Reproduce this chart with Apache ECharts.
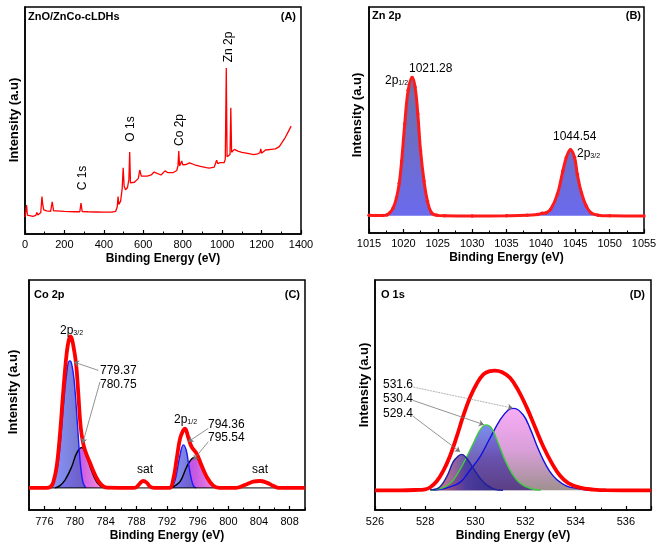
<!DOCTYPE html>
<html><head><meta charset="utf-8">
<script src="https://cdn.jsdelivr.net/npm/echarts@6/dist/echarts.min.js"></script>
<style>html,body{margin:0;padding:0;background:#fff}#c{width:661px;height:544px}</style>
</head><body><div id="c"></div>
<script>
// ---------- DATA ----------
// (A) survey spectrum [binding energy eV, intensity a.u.]
const surveyData = [[0,7.5],[5,8.0],[8,12.7],[12,8.3],[20,7.6],[40,7.8],[55,8.2],[60,9.5],[65,8.4],[80,9.5],[86,16.5],[90,13.0],[95,10.6],[110,10.2],[130,10.0],[138,14.2],[145,10.2],[160,10.2],[200,10.0],[250,9.8],[278,9.8],[284,13.6],[290,9.9],[320,9.8],[360,9.7],[400,9.6],[440,9.6],[460,10.0],[468,12.0],[472,16.5],[476,13.0],[485,14.5],[493,20.0],[498,29.2],[503,21.0],[510,19.5],[520,20.5],[527,24.0],[531,36.1],[535,22.5],[545,21.9],[555,22.8],[565,23.4],[575,24.5],[582,28.2],[590,25.5],[600,24.9],[620,25.5],[640,26.0],[655,27.3],[665,26.5],[690,26.0],[710,27.8],[725,27.0],[750,27.0],[770,28.0],[776,30.0],[780,36.5],[784,30.0],[790,30.5],[795,32.2],[800,30.5],[815,30.6],[835,31.3],[860,30.5],[890,29.8],[920,29.2],[925,30.0],[935,29.0],[960,29.5],[972,32.5],[978,31.0],[990,31.4],[1000,31.0],[1010,31.4],[1016,33.0],[1021,73.1],[1025,34.0],[1035,33.5],[1040,35.0],[1044,55.6],[1048,36.0],[1055,35.8],[1062,37.3],[1080,36.5],[1100,36.0],[1130,35.5],[1160,35.0],[1180,35.3],[1192,35.8],[1196,37.5],[1200,35.6],[1210,36.0],[1220,37.0],[1250,37.3],[1270,37.5],[1290,38.5],[1305,40.5],[1320,42.5],[1335,45.0],[1350,47.5]];

// (B) Zn 2p
const znData = [[1015,7.9],[1016,7.7],[1017,7.7],[1017.6,8.0],[1018.0,8.9],[1018.5,11.0],[1019.0,15.6],[1019.4,22.0],[1019.75,31.9],[1020.2,48.3],[1020.7,63.2],[1021.28,68.8],[1021.7,64.6],[1022.1,52.7],[1022.5,36.4],[1023.0,23.0],[1023.5,14.1],[1024.1,8.9],[1024.9,7.8],[1026,7.6],[1030,7.5],[1035,7.6],[1038,7.8],[1039.5,8.2],[1040.2,8.7],[1040.8,9.0],[1041.4,10.4],[1042.4,17.1],[1043.2,27.5],[1043.7,33.4],[1044.3,36.8],[1044.9,33.4],[1045.3,26.0],[1045.9,17.8],[1046.6,11.9],[1047.3,8.9],[1048.3,7.9],[1050,7.6],[1055,7.5]];
const znBaseline = 7.6;

// (C) Co 2p
const coEnvelope = [[774,9.6],[776.3,9.6],[776.8,10.1],[777.17,12],[777.61,19],[778.04,33],[778.48,52],[778.91,68],[779.2,74],[779.44,75.5],[779.78,71.5],[780.13,63.8],[780.43,50.7],[780.65,39.5],[780.87,32.6],[781.17,27.5],[781.52,24],[781.96,20.5],[782.39,17],[782.83,13.8],[783.26,11.6],[783.7,10.3],[784.2,9.7],[787.6,9.6],[788.04,10.0],[788.5,11.7],[788.9,12.6],[789.35,11.9],[789.78,10.2],[790.3,9.6],[792.3,9.6],[792.83,13.6],[793.26,22.2],[793.7,31.0],[794.1,34.5],[794.35,35.4],[794.78,31.5],[795.2,27.5],[795.87,24.5],[796.5,19.4],[797.2,14.3],[798.0,10.7],[798.8,9.6],[801.0,9.6],[801.5,10.0],[802.4,11.2],[803.25,12.3],[804.1,12.6],[805.0,11.9],[805.9,10.4],[806.6,9.6],[810,9.6]];
const co779 = [[776.9,9.6],[777.61,16.7],[778.04,27.5],[778.48,44.9],[778.91,59.4],[779.26,64.8],[779.48,64.5],[779.78,59.4],[780.0,52.2],[780.22,42],[780.43,31.9],[780.65,21.7],[780.87,15.2],[781.08,11.6],[781.4,9.6]];
const co780 = [[777.4,9.6],[778.0,10.5],[778.7,13],[779.57,18.8],[780.2,24.6],[780.87,27.2],[781.5,23.2],[782.2,16.7],[782.8,12.3],[783.3,10.5],[783.9,9.6]];
const co794 = [[792.4,9.6],[792.9,11.5],[793.26,16],[793.7,23.9],[794.13,28.3],[794.5,26.1],[794.8,20.3],[795.1,14.5],[795.45,10.5],[795.8,9.6]];
const co795 = [[792.6,9.6],[793.0,10.5],[793.7,12.3],[794.57,18.8],[795.2,22.2],[795.65,22.8],[796.3,21],[796.95,16.7],[797.6,12.3],[798.26,10.2],[798.8,9.6]];
const coBaselineLine = [[776.5,9.6],[807,9.6]];
const coBaseline = 9.6;
const coTicks = [776,780,784,788,792,796,800,804,808];
const coMinorTicks = [774,778,782,786,790,794,798,802,806,810];

// (D) O 1s
const oEnvelope = [[526,8.55],[527.0,8.55],[527.6,8.7],[528.0,9.0],[528.19,9.8],[528.46,12.5],[528.72,17.0],[528.99,23.5],[529.26,32],[529.52,41.0],[529.79,49.0],[530.05,54.8],[530.32,59.0],[530.58,60.4],[530.78,60.6],[531.05,60.0],[531.38,57.5],[531.71,52.0],[532.05,44.5],[532.38,36.0],[532.71,27.5],[533.04,20.5],[533.37,15.0],[533.7,11.7],[534.17,9.7],[534.7,8.9],[535.2,8.6],[537,8.55]];
const o529 = [[528.2,8.8],[528.52,9.5],[528.86,14.5],[529.12,21.0],[529.32,23.5],[529.46,24.2],[529.65,22.5],[529.92,18.1],[530.19,13.8],[530.45,10.9],[530.78,9.0],[531.1,8.6]];
const o530 = [[528.2,8.6],[528.46,9.0],[528.79,10.1],[529.12,13.0],[529.52,20.3],[529.92,29.0],[530.19,34.8],[530.42,37.0],[530.65,35.5],[530.91,29.0],[531.18,21.7],[531.45,16.0],[531.78,11.6],[532.18,9.4],[532.6,8.6]];
const o531 = [[528.3,8.6],[528.59,9.0],[528.86,9.6],[529.39,12.0],[529.79,17.4],[530.19,23.2],[530.58,31.2],[530.98,39.1],[531.31,43.5],[531.55,44.2],[531.91,41.3],[532.18,35.5],[532.44,28.3],[532.71,21.7],[532.97,16.7],[533.24,13.3],[533.64,10.4],[534.04,9.4],[534.5,8.6]];
const oBaseline = 8.55;

// leader lines [fromX, fromY, toX, toY]
const coLeaders = [[783.04,60.7,779.87,64.3],[783.26,55.7,781.0,29.0],[797.39,35.5,794.78,29.7],[797.39,29.7,795.43,21.7]];
const oLeaders = [[527.5,53.5,531.49,44.3],[527.5,47.7,530.34,37.1],[527.5,40.9,529.39,25.3]];

// ---------- CHART ----------
const FONT = '"Liberation Sans", Arial, sans-serif';
const chart = echarts.init(document.getElementById('c'), null, {renderer:'canvas'});

const grids = [
  {left:25, top:7, width:276, height:227},
  {left:369, top:7, width:275, height:226},
  {left:29, top:280, width:276, height:230},
  {left:375, top:280, width:276, height:230}
].map(g => Object.assign(g, {show:true, borderColor:'#000', borderWidth:1.5, backgroundColor:'transparent'}));

const plainFmt = v => String(v);

function xAx(gi, min, max, interval, extra) {
  return Object.assign({
    type:'value', gridIndex:gi, min:min, max:max, interval:interval,
    axisLine:{show:true, onZero:false, lineStyle:{color:'#000', width:1.5}},
    axisTick:{show:true, inside:true, length:4, lineStyle:{color:'#000', width:1.2}},
    minorTick:{show:true, splitNumber:2, length:2.5, lineStyle:{color:'#000', width:1}},
    splitLine:{show:false},
    axisLabel:{color:'#000', fontSize:11, fontFamily:FONT, margin:5, formatter:plainFmt},
    name:'Binding Energy (eV)', nameLocation:'middle', nameGap:19,
    nameTextStyle:{color:'#000', fontSize:12, fontWeight:'bold', fontFamily:FONT}
  }, extra || {});
}
function yAx(gi) {
  return {type:'value', gridIndex:gi, min:0, max:100,
    axisLine:{show:true, lineStyle:{color:'#000', width:1.5}},
    axisTick:{show:false}, axisLabel:{show:false}, splitLine:{show:false}};
}

const xAxes = [
  xAx(0, 0, 1400, 200),
  xAx(1, 1015, 1055, 5),
  xAx(2, 774, 810, 4, {
    axisLabel:{color:'#000', fontSize:11, fontFamily:FONT, margin:6, customValues:coTicks, formatter:plainFmt},
    axisTick:{show:true, inside:true, length:4, customValues:coTicks, lineStyle:{color:'#000', width:1.2}},
    minorTick:{show:false}, nameGap:20
  }),
  xAx(3, 526, 537, 2, {
    axisLabel:{color:'#000', fontSize:11, fontFamily:FONT, margin:6, formatter:v => v > 536 ? '' : String(v)},
    nameGap:20
  }),
  // minor tick overlay for panel C
  {type:'value', gridIndex:2, min:774, max:810, interval:4, position:'bottom',
   axisLine:{show:false}, axisLabel:{show:false}, splitLine:{show:false},
   axisTick:{show:true, inside:true, length:2.5, customValues:coMinorTicks, lineStyle:{color:'#000', width:1}}}
];
const yAxes = [yAx(0), yAx(1), yAx(2), yAx(3)];

const grad = (x2, y2, stops) => new echarts.graphic.LinearGradient(0,0,x2,y2, stops.map((c,i)=>({offset:i/(stops.length-1), color:c})));

function comp(gi, data, lineColor, fill, origin, opacity) {
  return {type:'line', xAxisIndex:gi, yAxisIndex:gi, data:data, smooth:0.4, showSymbol:false, silent:true,
    lineStyle:{color:lineColor, width:1.4},
    areaStyle:{color:fill, origin:origin, opacity:opacity}};
}
function arrows(list, styles) {
  return {silent:true, symbol:['none','arrow'], symbolSize:5, animation:false,
    label:{show:false}, lineStyle:{color:'#777', width:0.8, type:'solid'},
    data:list.map((l,i)=>[{coord:[l[0],l[1]], lineStyle:{type:(styles&&styles[i])||'solid', color:'#777', width:0.8}},{coord:[l[2],l[3]], symbol:'arrow'}])};
}

const series = [
  {type:'line', xAxisIndex:0, yAxisIndex:0, data:surveyData, showSymbol:false, lineStyle:{color:'#ff0000', width:1.3}},
  // B
  {type:'line', xAxisIndex:1, yAxisIndex:1, data:znData, smooth:0.4, showSymbol:false, lineStyle:{width:0},
   areaStyle:{color:grad(0,1,['#6f6fa8','#6b6bee']), origin:znBaseline, opacity:1}},
  {type:'line', xAxisIndex:1, yAxisIndex:1, data:znData, smooth:0.4, symbol:'circle', symbolSize:3.5,
   itemStyle:{color:'#ff1a1a'}, lineStyle:{color:'#ff1a1a', width:3}},
  // C
  comp(2, co780, '#000000', grad(1,0,['#9a2cf0','#c048e0','#ff86d8']), coBaseline, 0.9),
  comp(2, co779, '#1a1aff', grad(1,0,['#7282ff','#5c5cb8']), coBaseline, 0.85),
  comp(2, co795, '#000000', grad(1,0,['#9a2cf0','#c048e0','#ff86d8']), coBaseline, 0.9),
  comp(2, co794, '#1a1aff', grad(1,0,['#7282ff','#5c5cb8']), coBaseline, 0.85),
  {type:'line', xAxisIndex:2, yAxisIndex:2, data:coBaselineLine, showSymbol:false, lineStyle:{color:'#000', width:1}},
  {type:'line', xAxisIndex:2, yAxisIndex:2, data:coEnvelope, smooth:0.4, showSymbol:false,
   lineStyle:{color:'#ff0000', width:3.8}, markLine:arrows(coLeaders)},
  // D
  comp(3, o531, '#1010e0', grad(0,1,['#f7a8f5','#d89ad8','#9a8a8a']), oBaseline, 0.95),
  comp(3, o530, '#3ccc3c', grad(0,1,['#5a70f0','#5040a8','#4a2a80']), oBaseline, 0.8),
  comp(3, o529, '#2020a0', grad(1,0,['#f06868','#4a3aa0','#2a2a80']), oBaseline, 0.85),
  {type:'line', xAxisIndex:3, yAxisIndex:3, data:oEnvelope, smooth:0.4, showSymbol:false,
   lineStyle:{color:'#ff0000', width:3.8}, markLine:arrows(oLeaders, ['dotted','solid','solid'])}
];

// ---------- TEXT ----------
function txt(t, x, y, o) {
  o = o || {};
  return {type:'text', x:x, y:y, rotation:o.rot||0, silent:true, z:100,
    style:{text:t, fill:'#000', font:(o.bold?'bold ':'')+(o.size||12)+'px '+FONT,
      textAlign:o.align||'left', textVerticalAlign:'middle', rich:o.rich}};
}
const sub = {n:{fontSize:12, fontFamily:FONT, lineHeight:14, verticalAlign:'bottom'}, s:{fontSize:7, fontFamily:FONT, lineHeight:10, verticalAlign:'bottom'}};
const R = Math.PI/2;
const graphic = [
  txt('ZnO/ZnCo-cLDHs', 28, 17, {bold:true, size:11}),
  txt('(A)', 296, 17, {bold:true, size:11, align:'right'}),
  txt('Zn 2p', 372, 16, {bold:true, size:11}),
  txt('(B)', 641, 16, {bold:true, size:11, align:'right'}),
  txt('Co 2p', 34, 295, {bold:true, size:11}),
  txt('(C)', 300, 295, {bold:true, size:11, align:'right'}),
  txt('O 1s', 381, 295, {bold:true, size:11}),
  txt('(D)', 645, 295, {bold:true, size:11, align:'right'}),
  txt('Intensity (a.u)', 14, 120, {bold:true, size:13, align:'center', rot:R}),
  txt('Intensity (a.u)', 357, 115, {bold:true, size:13, align:'center', rot:R}),
  txt('Intensity (a.u)', 13, 392, {bold:true, size:13, align:'center', rot:R}),
  txt('Intensity (a.u)', 364, 385, {bold:true, size:13, align:'center', rot:R}),
  txt('C 1s', 83, 178, {align:'center', rot:R}),
  txt('O 1s', 131, 129, {align:'center', rot:R}),
  txt('Co 2p', 180, 130, {align:'center', rot:R}),
  txt('Zn 2p', 229, 47, {align:'center', rot:R}),
  txt('{n|2p}{s|1/2}', 385, 80, {rich:sub}),
  txt('1021.28', 409, 69, {size:12}),
  txt('1044.54', 553, 137, {size:12}),
  txt('{n|2p}{s|3/2}', 577, 153, {rich:sub}),
  txt('{n|2p}{s|3/2}', 60, 330, {rich:sub}),
  txt('779.37', 100, 371),
  txt('780.75', 100, 385),
  txt('{n|2p}{s|1/2}', 174, 419, {rich:sub}),
  txt('794.36', 208, 425),
  txt('795.54', 208, 438),
  txt('sat', 145, 470, {align:'center'}),
  txt('sat', 260, 470, {align:'center'}),
  txt('531.6', 383, 385),
  txt('530.4', 383, 399),
  txt('529.4', 383, 414)
];

chart.setOption({
  animation:false, backgroundColor:'#fff',
  grid:grids, xAxis:xAxes, yAxis:yAxes, series:series, graphic:graphic
});
</script></body></html>
